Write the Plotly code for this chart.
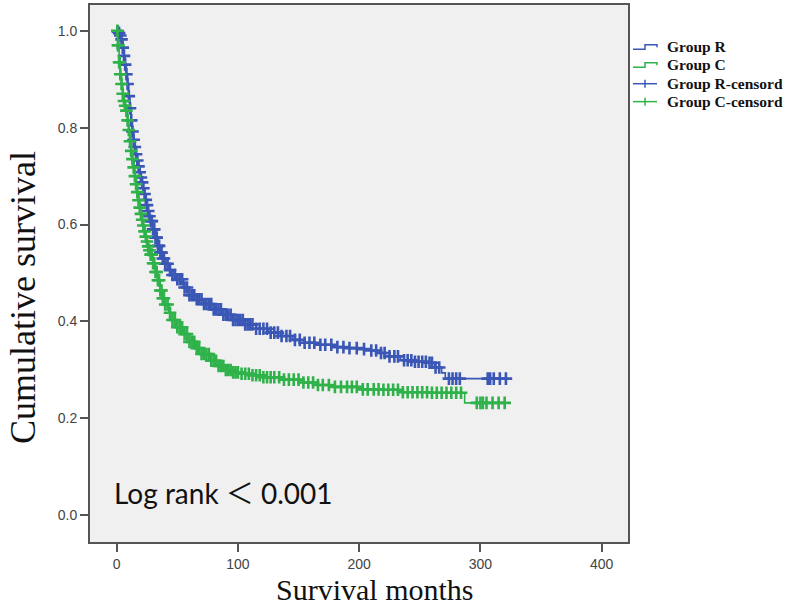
import numpy as np
import plotly.graph_objects as go

# ---- data ----
r_time = [0, 1, 2, 3, 4, 5, 6, 7, 8, 9, 10, 11, 12, 13, 14, 15, 16, 17, 18, 19, 20,
          21, 22, 23, 24, 25, 26, 27, 28, 30, 32, 34, 36, 38, 40, 43, 46, 50, 55, 60,
          66, 72, 80, 88, 96, 105, 115, 125, 135, 145, 155, 165, 178, 190, 200, 210,
          217, 225, 234, 245, 256, 262, 268, 271, 322]
r_surv = [1.000, 0.998, 0.995, 0.990, 0.982, 0.965, 0.948, 0.930, 0.910, 0.890, 0.865,
          0.840, 0.815, 0.792, 0.775, 0.760, 0.745, 0.732, 0.720, 0.708, 0.697,
          0.687, 0.675, 0.663, 0.651, 0.640, 0.628, 0.617, 0.607, 0.590, 0.573, 0.556,
          0.542, 0.530, 0.519, 0.506, 0.496, 0.487, 0.470, 0.454,
          0.446, 0.436, 0.425, 0.414, 0.403, 0.394, 0.385, 0.377, 0.370, 0.362,
          0.356, 0.352, 0.347, 0.345, 0.343, 0.340,
          0.335, 0.328, 0.320, 0.317, 0.315, 0.305, 0.294, 0.282, 0.282]

c_time = [0, 1, 2, 3, 4, 5, 6, 7, 8, 9, 10, 11, 12, 13, 14, 15, 16, 17, 18, 19, 20,
          21, 22, 23, 24, 25, 26, 27, 28, 30, 32, 34, 36, 38, 40, 43, 46, 50, 55, 60,
          65, 70, 77, 84, 90, 96, 102, 110, 120, 135, 151, 165, 180, 200, 217, 234,
          260, 287, 322]
c_surv = [1.000, 0.970, 0.935, 0.910, 0.890, 0.870, 0.855, 0.845, 0.835, 0.815, 0.795,
          0.772, 0.752, 0.735, 0.718, 0.700, 0.683, 0.667, 0.650, 0.635, 0.622,
          0.610, 0.598, 0.586, 0.575, 0.565, 0.555, 0.547, 0.538, 0.520, 0.502, 0.485,
          0.464, 0.448, 0.435, 0.418, 0.403, 0.388, 0.374, 0.358,
          0.345, 0.333, 0.319, 0.308, 0.300, 0.295, 0.292, 0.289, 0.285, 0.280,
          0.274, 0.269, 0.265, 0.260, 0.259, 0.254, 0.253, 0.232, 0.232]

r_censor = [1, 2, 3, 4, 5, 6, 7, 8, 9, 10, 11, 12, 13, 14, 15, 16, 17, 18, 19, 20, 21,
            22, 23, 24, 25, 26, 27, 28, 29, 30, 31, 32, 33, 34, 35, 36, 37, 38, 39, 40,
            42, 44, 46, 48, 50, 52, 54, 56, 58, 60, 62, 64, 66, 68, 70, 72, 74, 76, 78,
            80, 82, 84, 86, 88, 90, 92, 94, 96, 98, 100, 102, 104, 106, 108, 110, 112,
            115, 118, 121, 124, 127, 130, 133, 136, 140, 143, 147, 151, 155, 159, 163,
            168, 172, 177, 182, 187, 192, 198, 204, 210, 214, 218, 221, 225, 229, 232,
            237, 240, 243, 246, 249, 252, 255, 258, 260, 263, 266, 274, 277, 280, 283,
            306, 308, 311, 316, 321]
c_censor = [0.5, 1, 1.5, 2, 2.5, 3, 4, 5, 6, 7, 8, 9, 10, 11, 12, 13, 14, 15, 16, 17,
            18, 19, 20, 21, 22, 23, 24, 25, 26, 27, 28, 29, 30, 31, 32, 33, 34, 35, 36,
            37, 38, 39, 40, 42, 44, 46, 48, 50, 52, 54, 56, 58, 60, 62, 64, 66, 68, 70,
            72, 74, 76, 78, 80, 82, 84, 86, 88, 90, 92, 94, 96, 98, 100, 103, 106, 109,
            112, 115, 118, 121, 124, 127, 130, 134, 138, 142, 146, 150, 154, 158, 162,
            166, 170, 175, 180, 185, 190, 194, 198, 203, 207, 212, 216, 220, 224, 228,
            232, 236, 240, 244, 248, 252, 256, 260, 264, 268, 272, 276, 280, 284, 297,
            300, 302, 305, 310, 315, 320]

x_ticks = [0, 100, 200, 300, 400]
y_ticks = [0.0, 0.2, 0.4, 0.6, 0.8, 1.0]
legend_labels = ["Group R", "Group C", "Group R-censord", "Group C-censord"]

BLUE = "#3b57b5"
GREEN = "#2fb24a"


def km_at(times, surv, pts):
    t = np.asarray(times)
    s = np.asarray(surv)
    idx = np.searchsorted(t, np.asarray(pts), side="right") - 1
    return s[np.clip(idx, 0, len(s) - 1)]


fig = go.Figure()
for name, tt, ss, cc, col in [("Group R", r_time, r_surv, r_censor, BLUE),
                              ("Group C", c_time, c_surv, c_censor, GREEN)]:
    fig.add_trace(go.Scatter(x=tt, y=ss, mode="lines", line_shape="hv",
                             line=dict(color=col, width=1.6), name=name,
                             showlegend=False, hoverinfo="skip"))
    fig.add_trace(go.Scatter(x=cc, y=km_at(tt, ss, cc), mode="markers",
                             marker=dict(symbol="cross-thin", size=9,
                                         line=dict(color=col, width=2.6)),
                             name=name + "-censord", showlegend=False))

# plot area in pixels: x 90..628, y 3..542
L, R, T, B = 90, 628, 3, 542
W, H = 787, 606


def px(x):
    return (x - L) / (R - L)


def py(y):
    return (B - y) / (B - T)


shapes = []
annotations = []
rows = [45, 63, 82, 100]
cols = [BLUE, GREEN, BLUE, GREEN]
for i, (lab, yy, col) in enumerate(zip(legend_labels, rows, cols)):
    if i < 2:
        path = (f"M {px(633)},{py(yy + 2.5)} L {px(645)},{py(yy + 2.5)} "
                f"L {px(645)},{py(yy - 2)} L {px(657)},{py(yy - 2)} L {px(657)},{py(yy + 0.5)}")
        shapes.append(dict(type="path", xref="paper", yref="paper", path=path,
                           line=dict(color=col, width=1.5)))
    else:
        shapes.append(dict(type="line", xref="paper", yref="paper",
                           x0=px(633), x1=px(657), y0=py(yy), y1=py(yy),
                           line=dict(color=col, width=1.5)))
        shapes.append(dict(type="line", xref="paper", yref="paper",
                           x0=px(645), x1=px(645), y0=py(yy - 4), y1=py(yy + 4),
                           line=dict(color=col, width=1.5)))
    annotations.append(dict(text=f"<b>{lab}</b>", xref="paper", yref="paper",
                            x=px(665), y=py(yy), xanchor="left", yanchor="middle",
                            showarrow=False,
                            font=dict(family="Liberation Serif", size=15.5, color="#111")))

annotations.append(dict(text="Log rank \uff1c 0.001", xref="paper", yref="paper",
                        x=px(112), y=py(493), xanchor="left", yanchor="middle",
                        showarrow=False,
                        font=dict(family="Lato, Noto Sans CJK SC", size=28, color="#111")))
annotations.append(dict(text="Survival months", xref="paper", yref="paper",
                        x=px(375), y=py(590), xanchor="center", yanchor="middle",
                        showarrow=False,
                        font=dict(family="Liberation Serif", size=30, color="#111")))
annotations.append(dict(text="Cumulative survival", xref="paper", yref="paper",
                        x=px(23), y=py(297), xanchor="center", yanchor="middle",
                        textangle=-90, showarrow=False,
                        font=dict(family="Liberation Serif", size=36, color="#111")))

axis_common = dict(showline=True, mirror=True, linecolor="#555", linewidth=2,
                   ticks="outside", ticklen=8, tickwidth=2, tickcolor="#555",
                   showgrid=False, zeroline=False,
                   tickfont=dict(family="Liberation Sans", size=14, color="#444"))

fig.update_layout(
    width=W, height=H,
    margin=dict(l=L, r=W - R, t=T, b=H - B),
    paper_bgcolor="white", plot_bgcolor="#f0f0f0",
    xaxis=dict(range=[-22, 421.7], tickvals=x_ticks, **axis_common),
    yaxis=dict(range=[-0.055, 1.053], tickvals=y_ticks, tickformat=".1f", **axis_common),
    shapes=shapes, annotations=annotations, showlegend=False,
)

fig.write_html("out.html", config={"displayModeBar": False},
               post_script="document.body.style.margin='0';document.body.style.overflow='hidden';")
